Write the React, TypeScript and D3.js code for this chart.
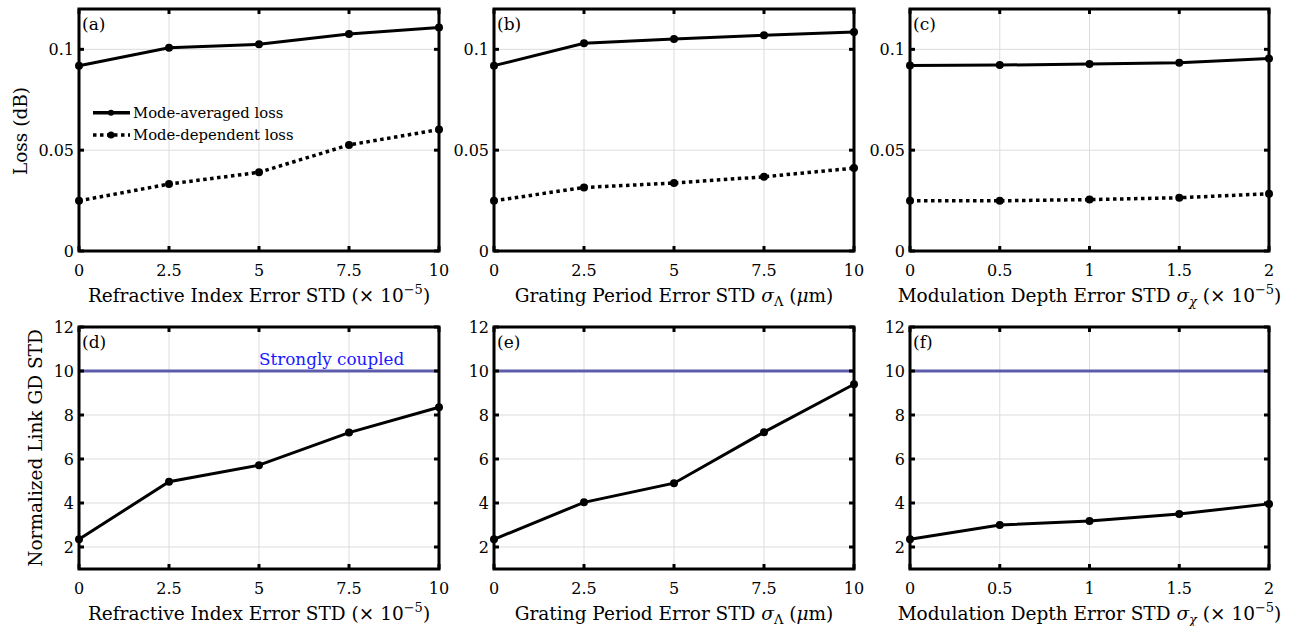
import React from "react";
import * as d3 from "d3";

const xRefr = [0, 2.5, 5, 7.5, 10];
const xGrat = [0, 2.5, 5, 7.5, 10];
const xMod = [0, 0.5, 1, 1.5, 2];

const avgLossA = [0.0919, 0.1008, 0.1025, 0.1076, 0.1108];
const depLossA = [0.0249, 0.0332, 0.039, 0.0526, 0.0602];
const avgLossB = [0.0919, 0.103, 0.1051, 0.107, 0.1086];
const depLossB = [0.0249, 0.0315, 0.0337, 0.0368, 0.0411];
const avgLossC = [0.092, 0.0922, 0.0927, 0.0934, 0.0954];
const depLossC = [0.0249, 0.0249, 0.0255, 0.0264, 0.0284];

const gdD = [2.35, 4.97, 5.72, 7.2, 8.35];
const gdE = [2.35, 4.03, 4.9, 7.22, 9.4];
const gdF = [2.35, 3.0, 3.18, 3.5, 3.96];

const strongLevel = 10;

const xTicksRefr = ["0", "2.5", "5", "7.5", "10"];
const xTicksMod = ["0", "0.5", "1", "1.5", "2"];
const lossTicks = [0, 0.05, 0.1];
const lossTickLabels = ["0", "0.05", "0.1"];
const gdTicks = [2, 4, 6, 8, 10, 12];

const FONT = "'DejaVu Serif', serif";

type Series = { values: number[]; dashed: boolean };

function XLabel({ kind, x, y }: { kind: string; x: number; y: number }) {
  const fs = 18.5;
  const sub = 13;
  if (kind === "refr")
    return (
      <text x={x} y={y} textAnchor="middle" fontSize={fs} fontFamily={FONT}>
        Refractive Index Error STD (× 10
        <tspan dy={-8} fontSize={sub}>−5</tspan>
        <tspan dy={8}>)</tspan>
      </text>
    );
  if (kind === "grat")
    return (
      <text x={x} y={y} textAnchor="middle" fontSize={fs} fontFamily={FONT}>
        Grating Period Error STD <tspan fontStyle="italic">σ</tspan>
        <tspan dy={4} fontSize={sub}>Λ</tspan>
        <tspan dy={-4}> (</tspan>
        <tspan fontStyle="italic">μ</tspan>m)
      </text>
    );
  return (
    <text x={x} y={y} textAnchor="middle" fontSize={fs} fontFamily={FONT}>
      Modulation Depth Error STD <tspan fontStyle="italic">σ</tspan>
      <tspan dy={4} fontSize={sub} fontStyle="italic">χ</tspan>
      <tspan dy={-4}> (× 10</tspan>
      <tspan dy={-8} fontSize={sub}>−5</tspan>
      <tspan dy={8}>)</tspan>
    </text>
  );
}

function Panel(props: {
  left: number;
  top: number;
  width: number;
  height: number;
  xs: number[];
  xTickLabels: string[];
  yDomain: [number, number];
  yTicks: number[];
  yTickLabels: string[];
  series: Series[];
  letter: string;
  xKind: string;
  strong?: boolean;
  strongText?: boolean;
  legend?: boolean;
}) {
  const { left, top, width, height, xs } = props;
  const x = d3.scaleLinear().domain([xs[0], xs[xs.length - 1]]).range([left, left + width]);
  const y = d3.scaleLinear().domain(props.yDomain).range([top + height, top]);
  const line = d3
    .line<number>()
    .x((_, i) => x(xs[i]))
    .y((d) => y(d));
  const tickLen = 5;
  return (
    <g>
      {xs.map((v, i) => (
        <line key={"gx" + i} x1={x(v)} x2={x(v)} y1={top} y2={top + height} stroke="#dcdcdc" strokeWidth={1} />
      ))}
      {props.yTicks.map((v, i) => (
        <line key={"gy" + i} x1={left} x2={left + width} y1={y(v)} y2={y(v)} stroke="#dcdcdc" strokeWidth={1} />
      ))}
      {props.strong && (
        <line
          x1={left}
          x2={left + width}
          y1={y(strongLevel)}
          y2={y(strongLevel)}
          stroke="#5c5cab"
          strokeWidth={3}
        />
      )}
      {props.strongText && (
        <text x={x(xs[2])} y={y(strongLevel) - 6} fontSize={16.8} fill="#1a1aff" fontFamily={FONT}>
          Strongly coupled
        </text>
      )}
      {props.series.map((s, si) => (
        <g key={"s" + si}>
          <path
            d={line(s.values) || ""}
            fill="none"
            stroke="#000"
            strokeWidth={s.dashed ? 3.5 : 3}
            strokeDasharray={s.dashed ? "3.5,3.5" : undefined}
          />
          {s.values.map((v, i) => (
            <circle key={i} cx={x(xs[i])} cy={y(v)} r={4} fill="#000" />
          ))}
        </g>
      ))}
      {xs.map((v, i) => (
        <g key={"tx" + i}>
          <line x1={x(v)} x2={x(v)} y1={top + height} y2={top + height - tickLen} stroke="#000" strokeWidth={3} />
          <line x1={x(v)} x2={x(v)} y1={top} y2={top + tickLen} stroke="#000" strokeWidth={3} />
          <text x={x(v)} y={top + height + 25} textAnchor="middle" fontSize={16} fontFamily={FONT}>
            {props.xTickLabels[i]}
          </text>
        </g>
      ))}
      {props.yTicks.map((v, i) => (
        <g key={"ty" + i}>
          <line x1={left} x2={left + tickLen} y1={y(v)} y2={y(v)} stroke="#000" strokeWidth={3} />
          <line x1={left + width} x2={left + width - tickLen} y1={y(v)} y2={y(v)} stroke="#000" strokeWidth={3} />
          <text x={left - 5} y={y(v) + 6} textAnchor="end" fontSize={16} fontFamily={FONT}>
            {props.yTickLabels[i]}
          </text>
        </g>
      ))}
      <rect x={left} y={top} width={width} height={height} fill="none" stroke="#000" strokeWidth={3} />
      <text x={left + 3} y={top + 21} fontSize={17} fontFamily={FONT}>
        ({props.letter})
      </text>
      {props.legend && (
        <g fontFamily={FONT} fontSize={14.8}>
          <line x1={left + 14} x2={left + 51} y1={y(0.0685)} y2={y(0.0685)} stroke="#000" strokeWidth={3.5} />
          <circle cx={left + 32} cy={y(0.0685)} r={3} fill="#000" />
          <text x={left + 54} y={y(0.0685) + 5}>Mode-averaged loss</text>
          <line
            x1={left + 14}
            x2={left + 51}
            y1={y(0.0575)}
            y2={y(0.0575)}
            stroke="#000"
            strokeWidth={3.5}
            strokeDasharray="3.5,3.5"
          />
          <circle cx={left + 32} cy={y(0.0575)} r={3.5} fill="#000" />
          <text x={left + 54} y={y(0.0575) + 5}>Mode-dependent loss</text>
        </g>
      )}
      <XLabel kind={props.xKind} x={left + width / 2} y={top + height + 51} />
    </g>
  );
}

export default function App() {
  const lefts = [79, 494, 910];
  const w = 360;
  const topTop = 9;
  const topH = 242;
  const botTop = 327;
  const botH = 242;
  return (
    <svg width={1304} height={626} style={{ position: "absolute", left: 0, top: 0, display: "block" }}>
      <Panel
        left={lefts[0]} top={topTop} width={w} height={topH}
        xs={xRefr} xTickLabels={xTicksRefr}
        yDomain={[0, 0.12]} yTicks={lossTicks} yTickLabels={lossTickLabels}
        series={[{ values: avgLossA, dashed: false }, { values: depLossA, dashed: true }]}
        letter="a" xKind="refr" legend
      />
      <Panel
        left={lefts[1]} top={topTop} width={w} height={topH}
        xs={xGrat} xTickLabels={xTicksRefr}
        yDomain={[0, 0.12]} yTicks={lossTicks} yTickLabels={lossTickLabels}
        series={[{ values: avgLossB, dashed: false }, { values: depLossB, dashed: true }]}
        letter="b" xKind="grat"
      />
      <Panel
        left={lefts[2]} top={topTop} width={w - 1} height={topH}
        xs={xMod} xTickLabels={xTicksMod}
        yDomain={[0, 0.12]} yTicks={lossTicks} yTickLabels={lossTickLabels}
        series={[{ values: avgLossC, dashed: false }, { values: depLossC, dashed: true }]}
        letter="c" xKind="mod"
      />
      <Panel
        left={lefts[0]} top={botTop} width={w} height={botH}
        xs={xRefr} xTickLabels={xTicksRefr}
        yDomain={[1, 12]} yTicks={gdTicks} yTickLabels={gdTicks.map(String)}
        series={[{ values: gdD, dashed: false }]}
        letter="d" xKind="refr" strong strongText
      />
      <Panel
        left={lefts[1]} top={botTop} width={w} height={botH}
        xs={xGrat} xTickLabels={xTicksRefr}
        yDomain={[1, 12]} yTicks={gdTicks} yTickLabels={gdTicks.map(String)}
        series={[{ values: gdE, dashed: false }]}
        letter="e" xKind="grat" strong
      />
      <Panel
        left={lefts[2]} top={botTop} width={w - 1} height={botH}
        xs={xMod} xTickLabels={xTicksMod}
        yDomain={[1, 12]} yTicks={gdTicks} yTickLabels={gdTicks.map(String)}
        series={[{ values: gdF, dashed: false }]}
        letter="f" xKind="mod" strong
      />
      <text
        transform={`translate(27,131) rotate(-90)`}
        textAnchor="middle" fontSize={18.5} fontFamily={FONT}
      >
        Loss (dB)
      </text>
      <text
        transform={`translate(42,448) rotate(-90)`}
        textAnchor="middle" fontSize={18.5} fontFamily={FONT}
      >
        Normalized Link GD STD
      </text>
    </svg>
  );
}
